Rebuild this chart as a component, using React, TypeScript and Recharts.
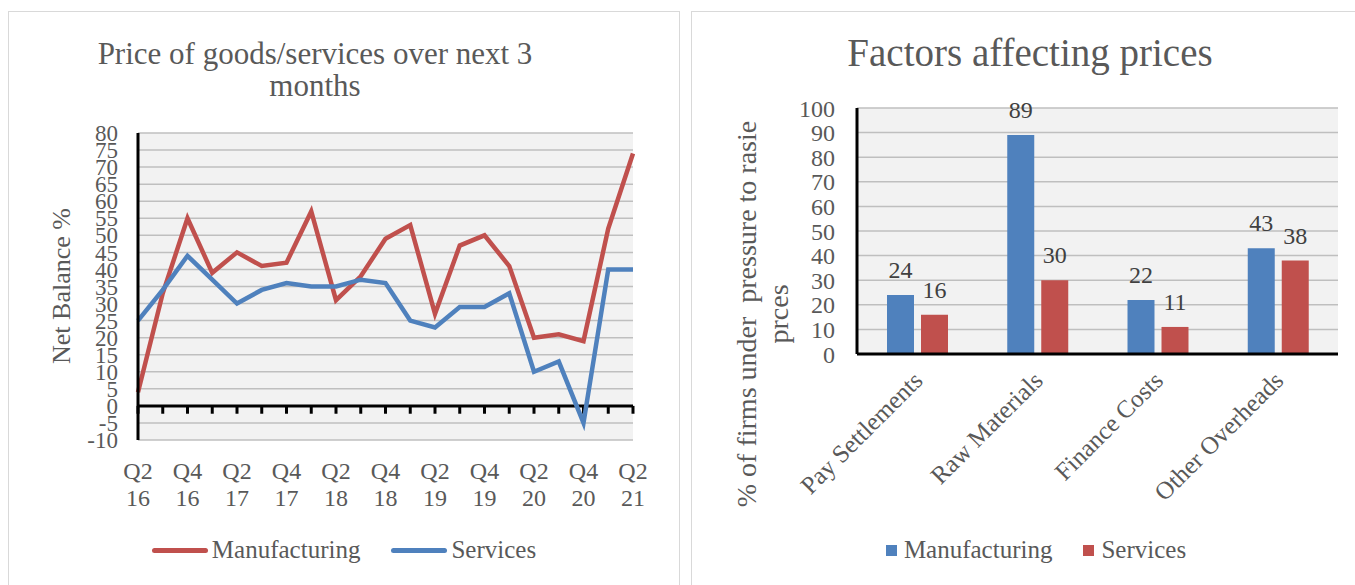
import React from "react";
import {
  LineChart,
  Line,
  BarChart,
  Bar,
  XAxis,
  YAxis,
  CartesianGrid,
  ReferenceLine,
  LabelList,
  Label,
} from "recharts";

const FONT = '"Liberation Serif", "Times New Roman", serif';
const TEXT = "#595959";
const RED = "#C0504D";
const BLUE = "#4F81BD";

// left chart: net balance by quarter
const quarters = [
  "Q2 16", "Q3 16", "Q4 16", "Q1 17", "Q2 17", "Q3 17", "Q4 17",
  "Q1 18", "Q2 18", "Q3 18", "Q4 18", "Q1 19", "Q2 19", "Q3 19",
  "Q4 19", "Q1 20", "Q2 20", "Q3 20", "Q4 20", "Q1 21", "Q2 21",
];
const manufacturing = [4, 33, 55, 39, 45, 41, 42, 57, 31, 38, 49, 53, 27, 47, 50, 41, 20, 21, 19, 52, 74];
const services = [25, 34, 44, 37, 30, 34, 36, 35, 35, 37, 36, 25, 23, 29, 29, 33, 10, 13, -5, 40, 40];
const balanceTicks = [-10, -5, 0, 5, 10, 15, 20, 25, 30, 35, 40, 45, 50, 55, 60, 65, 70, 75, 80];

// right chart: factors affecting prices
const factors = ["Pay Settlements", "Raw Materials", "Finance Costs", "Other Overheads"];
const factorMfg = [24, 89, 22, 43];
const factorSvc = [16, 30, 11, 38];
const pctTicks = [0, 10, 20, 30, 40, 50, 60, 70, 80, 90, 100];

const seriesNames = ["Manufacturing", "Services"];

const lineData = quarters.map((q, i) => ({
  q,
  mfg: manufacturing[i],
  svc: services[i],
}));

const barData = factors.map((f, i) => ({
  f,
  mfg: factorMfg[i],
  svc: factorSvc[i],
}));

const QuarterTick = (props: any) => {
  const { x, y, payload, index } = props;
  if (index % 2 !== 0) return <g />;
  const [q, yr] = String(payload.value).split(" ");
  return (
    <text x={x} y={y} textAnchor="middle" fill={TEXT} fontSize={24} fontFamily={FONT}>
      <tspan x={x} dy={39}>{q}</tspan>
      <tspan x={x} dy={27}>{yr}</tspan>
    </text>
  );
};

const FactorTick = (props: any) => {
  const { x, y, payload } = props;
  const px = x + 7;
  const py = y + 28;
  return (
    <text
      x={px}
      y={py}
      transform={`rotate(-45, ${px}, ${py})`}
      textAnchor="end"
      fill={TEXT}
      fontSize={25}
      fontFamily={FONT}
    >
      {payload.value}
    </text>
  );
};

function LegendRow({ colors, square }: { colors: string[]; square?: boolean }) {
  return (
    <div style={{ display: "flex", justifyContent: "center", alignItems: "center", fontFamily: FONT, color: TEXT, fontSize: 25 }}>
      {seriesNames.map((name, i) => (
        <div key={name} style={{ display: "flex", alignItems: "center", marginLeft: i ? 31 : 0 }}>
          {square ? (
            <span style={{ width: 11, height: 11, background: colors[i], marginRight: 7 }} />
          ) : (
            <span style={{ width: 56, height: 5, borderRadius: 3, background: colors[i], marginRight: 4 }} />
          )}
          <span>{name}</span>
        </div>
      ))}
    </div>
  );
}

export default function App() {
  return (
    <div style={{ position: "absolute", left: 0, top: 0, width: 1355, height: 585, background: "#fff", overflow: "hidden" }}>
      <div style={{ position: "absolute", left: 8, top: 11, width: 670, height: 620, border: "1.5px solid #d9d9d9" }} />
      <div style={{ position: "absolute", left: 691, top: 11, width: 700, height: 620, border: "1.5px solid #d9d9d9" }} />

      {/* left chart */}
      <div style={{ position: "absolute", left: 90, top: 38, width: 450, textAlign: "center", fontFamily: FONT, color: TEXT, fontSize: 31, lineHeight: "32px" }}>
        Price of goods/services over next 3
        <br />
        months
      </div>
      <div style={{ position: "absolute", left: 0, top: 0 }}>
        <LineChart width={680} height={585} data={lineData} margin={{ top: 133, right: 47, bottom: 85, left: 58 }}>
          <CartesianGrid vertical={false} stroke="#bfbfbf" strokeWidth={1.5} fill="#f2f2f2" />
          <XAxis dataKey="q" interval={0} axisLine={false} tickLine={false} tickSize={0} tickMargin={0} height={60} tick={<QuarterTick />} />
          <YAxis
            width={80}
            domain={[-10, 80]}
            ticks={balanceTicks}
            interval={0}
            axisLine={{ stroke: "#000", strokeWidth: 3 }}
            tickLine={false}
            tickSize={0}
            tickMargin={20}
            tick={{ fill: TEXT, fontSize: 23, fontFamily: FONT }}
          >
            <Label
              content={() => (
                <text x={0} y={0} transform="translate(70,286) rotate(-90)" textAnchor="middle" fill={TEXT} fontSize={26} fontFamily={FONT}>
                  Net Balance %
                </text>
              )}
            />
          </YAxis>
          <ReferenceLine y={0} stroke="#000" strokeWidth={3} />
          {quarters.map((q) => (
            <ReferenceLine key={q} segment={[{ x: q, y: 0 }, { x: q, y: -2.3 }]} stroke="#000" strokeWidth={3} />
          ))}
          <Line type="linear" dataKey="mfg" name={seriesNames[0]} stroke={RED} strokeWidth={4.5} dot={false} isAnimationActive={false} />
          <Line type="linear" dataKey="svc" name={seriesNames[1]} stroke={BLUE} strokeWidth={4.5} dot={false} isAnimationActive={false} />
        </LineChart>
      </div>
      <div style={{ position: "absolute", left: 8, top: 536, width: 672 }}>
        <LegendRow colors={[RED, BLUE]} />
      </div>

      {/* right chart */}
      <div style={{ position: "absolute", left: 830, top: 33, width: 400, textAlign: "center", fontFamily: FONT, color: TEXT, fontSize: 39, lineHeight: "40px" }}>
        Factors affecting prices
      </div>
      <div style={{ position: "absolute", left: 680, top: 0 }}>
        <BarChart width={675} height={585} data={barData} margin={{ top: 108, right: 17, bottom: 101, left: 120 }} barSize={27} barGap={7}>
          <CartesianGrid vertical={false} stroke="#bfbfbf" strokeWidth={1.5} fill="#f2f2f2" />
          <XAxis dataKey="f" interval={0} axisLine={{ stroke: "#000", strokeWidth: 3 }} tickLine={false} tickSize={0} tickMargin={0} height={130} tick={<FactorTick />} />
          <YAxis
            width={57}
            domain={[0, 100]}
            ticks={pctTicks}
            interval={0}
            axisLine={{ stroke: "#000", strokeWidth: 3 }}
            tickLine={false}
            tickSize={0}
            tickMargin={22}
            tick={{ fill: TEXT, fontSize: 24, fontFamily: FONT }}
          />
          <Bar dataKey="mfg" name={seriesNames[0]} fill={BLUE} isAnimationActive={false}>
            <LabelList dataKey="mfg" position="top" offset={17} fill="#404040" fontSize={24} fontFamily={FONT} />
          </Bar>
          <Bar dataKey="svc" name={seriesNames[1]} fill={RED} isAnimationActive={false}>
            <LabelList dataKey="svc" position="top" offset={17} fill="#404040" fontSize={24} fontFamily={FONT} />
          </Bar>
        </BarChart>
      </div>
      <svg style={{ position: "absolute", left: 680, top: 0, pointerEvents: "none" }} width={120} height={585}>
        <text transform="translate(76,314) rotate(-90)" textAnchor="middle" fill={TEXT} fontSize={28} fontFamily={FONT} style={{ whiteSpace: "pre" }}>
          % of firms under  pressure to rasie
        </text>
        <text transform="translate(108,314) rotate(-90)" textAnchor="middle" fill={TEXT} fontSize={28} fontFamily={FONT}>
          prces
        </text>
      </svg>
      <div style={{ position: "absolute", left: 886, top: 536, width: 300 }}>
        <LegendRow colors={[BLUE, RED]} square />
      </div>
    </div>
  );
}
